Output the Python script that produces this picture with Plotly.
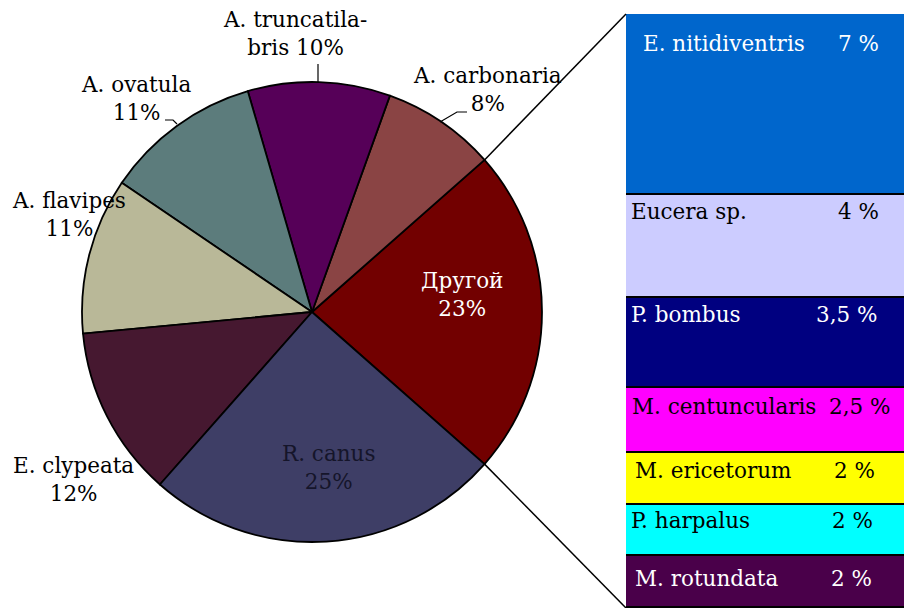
import math
import plotly.graph_objects as go

# Данные круговой диаграммы
pie_labels = ["Другой", "A. carbonaria", "A. truncatilabris", "A. ovatula",
              "A. flavipes", "E. clypeata", "R. canus"]
pie_values = [23, 8, 10, 11, 11, 12, 25]
pie_text = ["Другой<br>23%", "A. carbonaria<br>8%", "A. truncatila-<br>bris 10%",
            "A. ovatula<br>11%", "A. flavipes<br>11%", "E. clypeata<br>12%",
            "R. canus<br>25%"]
pie_colors = ["#720000", "#8a4444", "#560058", "#5c7c7c", "#b9b898", "#461830", "#3e3e66"]
pie_fontcolors = ["white", "black", "black", "black", "black", "black", "#15152a"]

# Данные столбца "Другой"
bar_labels = ["E. nitidiventris", "Eucera sp.", "P. bombus", "M. centuncularis",
              "M. ericetorum", "P. harpalus", "M. rotundata"]
bar_values = [7, 4, 3.5, 2.5, 2, 2, 2]
bar_pct = ["7 %", "4 %", "3,5 %", "2,5 %", "2 %", "2 %", "2 %"]
bar_colors = ["#0066cc", "#ccccff", "#000080", "#ff00ff", "#ffff00", "#00ffff", "#4a004a"]
bar_fontcolors = ["white", "black", "white", "black", "black", "black", "white"]

W, H = 912, 608
OFF = 8  # отступ body на странице
FONT = "DejaVu Serif"
FS = 21.5


def px(x):
    return (x - OFF) / W


def py(y):
    return 1 - (y - OFF) / H


# положение круга (в пикселях страницы)
PIE_CX, PIE_CY, PIE_R = 312, 312, 230
pie_dom_x = [px(PIE_CX - PIE_R), px(PIE_CX + PIE_R)]
pie_dom_y = [py(PIE_CY + PIE_R), py(PIE_CY - PIE_R)]

# положения подписей круга (центр блока текста, пиксели страницы)
label_pos = [(462, 294), (487, 89), (295, 34), (136, 98), (69, 214), (73, 479), (328, 467)]

fig = go.Figure()

rot = 90 - pie_values[0] / sum(pie_values) * 360 / 2
fig.add_trace(go.Pie(
    labels=pie_labels, values=pie_values,
    textinfo="none", sort=False, direction="counterclockwise", rotation=rot,
    marker=dict(colors=pie_colors, line=dict(color="black", width=1.8)),
    domain=dict(x=pie_dom_x, y=pie_dom_y), automargin=False,
    showlegend=False, hoverinfo="label+percent",
))

for (lx, ly), t, c in zip(label_pos, pie_text, pie_fontcolors):
    fig.add_annotation(x=px(lx), y=py(ly), xref="paper", yref="paper", text=t,
                       showarrow=False, xanchor="center", yanchor="middle",
                       font=dict(family=FONT, size=FS, color=c))

# выноски
for path in ["M318,64 L318,82", "M440,122 L457,112 L467,112", "M165,120 L173,120 L177,124"]:
    pts = [p.split(",") for p in path.replace("M", "").split(" L")]
    d = "M" + " L".join(f"{px(float(a))},{py(float(b))}" for a, b in pts)
    fig.add_shape(type="path", path=d, xref="paper", yref="paper",
                  line=dict(color="black", width=1.2))

# столбец: снизу вверх
total = sum(bar_values)
for i in reversed(range(len(bar_labels))):
    fig.add_trace(go.Bar(
        x=[0], y=[bar_values[i]], name=bar_labels[i], width=1,
        marker=dict(color=bar_colors[i], line=dict(color="black", width=1.8)),
        showlegend=False, hoverinfo="name+y",
    ))

tops = []
acc = total
for v in bar_values:
    tops.append(acc)
    acc -= v

name_x = [641, 629, 629, 630, 633, 629, 633]
pct_x = [881, 881, 879, 892, 877, 875, 874]
yshift = [-30, -17, -16, -18, -17, -16, -22]
for i, lab in enumerate(bar_labels):
    fig.add_annotation(x=px(name_x[i]), y=tops[i], xref="paper", yref="y", text=lab,
                       showarrow=False, xanchor="left", yanchor="middle", yshift=yshift[i],
                       font=dict(family=FONT, size=FS, color=bar_fontcolors[i]))
    fig.add_annotation(x=px(pct_x[i]), y=tops[i], xref="paper", yref="y", text=bar_pct[i],
                       showarrow=False, xanchor="right", yanchor="middle", yshift=yshift[i],
                       font=dict(family=FONT, size=FS, color=bar_fontcolors[i]))

# соединительные линии
bar_left = px(626)
bar_top = py(14)
bar_bottom = py(608)
half = math.radians(pie_values[0] / sum(pie_values) * 180)
for sgn, ty in [(-1, bar_top), (1, bar_bottom)]:
    ex = PIE_CX + PIE_R * math.cos(half)
    ey = PIE_CY + sgn * PIE_R * math.sin(half)
    fig.add_shape(type="line", xref="paper", yref="paper",
                  x0=px(ex), y0=py(ey), x1=bar_left, y1=ty,
                  line=dict(color="black", width=1.5))

fig.update_layout(
    width=W, height=H,
    margin=dict(l=0, r=0, t=0, b=0, autoexpand=False),
    paper_bgcolor="white", plot_bgcolor="white",
    barmode="stack", bargap=0,
    xaxis=dict(domain=[bar_left, 1], range=[-0.5, 0.5], visible=False),
    yaxis=dict(domain=[bar_bottom, bar_top], range=[0, total], visible=False),
    font=dict(family=FONT, size=FS),
)

fig.write_html("out.html")
